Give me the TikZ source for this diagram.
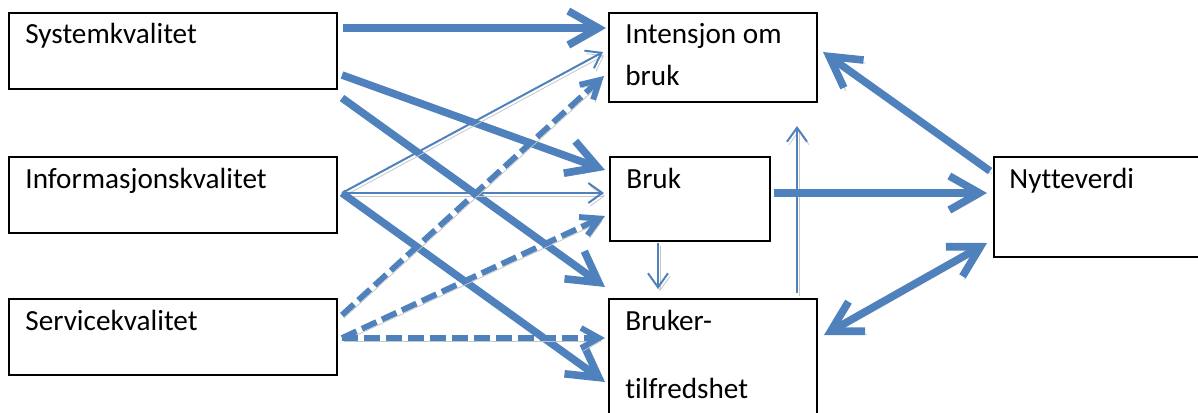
\documentclass[tikz,border=0pt]{standalone}
\usepackage{fontspec}
\setmainfont[Ligatures=NoCommon]{Carlito}
\usetikzlibrary{arrows.meta}
\definecolor{arrowblue}{HTML}{4F81BD}
\definecolor{shadowgray}{HTML}{C6C6C6}
\tikzset{
  box/.style={draw, line width=1.2pt, outer sep=0pt, inner sep=0pt, anchor=north west},
  boxtext/.style={anchor=base west, inner sep=0pt, font=\fontsize{14.6}{17}\selectfont},
  link/.style={draw=arrowblue, preaction={draw=shadowgray, transform canvas={shift={(2,3)}}}},
  bigtip/.tip={Straight Barb[length=15pt,width=17pt]},
  bigarrow/.style={link, line width=3.8pt, -{bigtip}},
  smallarrow/.style={link, line width=1pt, -{Straight Barb[length=7pt,width=10pt]}},
  dasharrow/.style={link, line width=2.9pt, dash pattern=on 8pt off 3pt, -{Straight Barb[length=9pt,width=10pt]}},
}
\begin{document}
\begin{tikzpicture}[x=0.5pt, y=-0.5pt]
    \useasboundingbox (0,0) rectangle (1198,412);
    \clip (0,0) rectangle (1198,412);
    % left column
    \node[box, minimum width=164pt, minimum height=38pt] (sys) at (9,13) {};
    \node[box, minimum width=164pt, minimum height=38pt] (info) at (9,157) {};
    \node[box, minimum width=164pt, minimum height=38pt] (serv) at (9,299) {};
    % middle and right
    \node[box, minimum width=104pt, minimum height=44.5pt] (int) at (609,13) {};
    \node[box, minimum width=80pt, minimum height=42pt] (bruk) at (610,157) {};
    \node[box, minimum width=104pt, minimum height=70pt] (tilf) at (609,299) {};
    \node[box, minimum width=120pt, minimum height=50pt] (nytte) at (994,157) {};

    \node[boxtext] (systxt) at ([shift={(16,30)}]sys.north west) {Systemkvalitet};
    \node[boxtext] (infotxt) at ([shift={(16,31)}]info.north west) {Informasjonskvalitet};
    \node[boxtext] (servtxt) at ([shift={(16,31)}]serv.north west) {Servicekvalitet};
    \node[boxtext] (inttxt) at ([shift={(16,30)}]int.north west) {Intensjon om};
    \node[boxtext] (inttxtb) at ([shift={(16,72)}]int.north west) {bruk};
    \node[boxtext] (bruktxt) at ([shift={(16,31)}]bruk.north west) {Bruk};
    \node[boxtext] (tilftxt) at ([shift={(16,31)}]tilf.north west) {Bruker-};
    \node[boxtext] (tilftxtb) at ([shift={(16,99)}]tilf.north west) {tilfredshet};
    \node[boxtext] (nyttetxt) at ([shift={(15,31)}]nytte.north west) {Nytteverdi};

    % from the quality boxes
    \draw[bigarrow] ([shift={(6,15)}]sys.north east) -- ([shift={(-3,15)}]int.north west);
    \draw[bigarrow] ([shift={(5,62)}]sys.north east) -- ([shift={(-5,13)}]bruk.north west);
    \draw[bigarrow] ([shift={(5,85)}]sys.north east) -- ([shift={(-4,-12)}]tilf.north west);
    \draw[smallarrow] ([shift={(5,36)}]info.north east) -- ([shift={(-6,39)}]int.north west);
    \draw[smallarrow] ([shift={(5,36)}]info.north east) -- ([shift={(-6,36)}]bruk.north west);
    \draw[bigarrow] ([shift={(5,36)}]info.north east) -- ([shift={(-4,83)}]tilf.north west);
    \draw[dasharrow] ([shift={(5,16)}]serv.north east) -- ([shift={(-5,63)}]int.north west);
    \draw[dasharrow] ([shift={(5,39)}]serv.north east) -- ([shift={(-5,59)}]bruk.north west);
    \draw[dasharrow] ([shift={(5,39)}]serv.north east) -- ([shift={(-4,39)}]tilf.north west);

    % between the outcomes
    \draw[smallarrow] ([shift={(48,2)}]bruk.south west) -- ([shift={(49,-10)}]tilf.north west);
    \draw[smallarrow] ([shift={(-20,-6)}]tilf.north east) -- ([shift={(-20,24)}]int.south east);
    \draw[bigarrow] ([shift={(4,36)}]bruk.north east) -- ([shift={(-7,36)}]nytte.north west);
    \draw[bigarrow] ([shift={(-4,14)}]nytte.north west) -- ([shift={(6,39)}]int.north east);
    \draw[bigarrow, {bigtip}-{bigtip}] ([shift={(-7,-14)}]nytte.south west) -- ([shift={(7,36)}]tilf.north east);
\end{tikzpicture}
\end{document}
